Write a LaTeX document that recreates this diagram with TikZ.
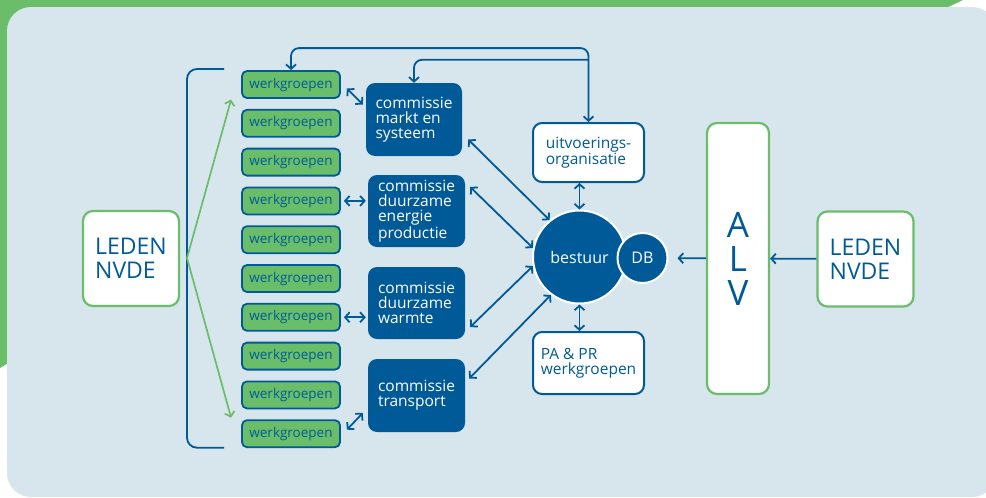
\documentclass[tikz,border=0pt]{standalone}
\usepackage{fontspec}
\setmainfont{Open Sans}
\usetikzlibrary{arrows.meta}

\definecolor{nvdeblue}{RGB}{0,90,152}
\definecolor{nvdegreen}{RGB}{106,190,105}
\definecolor{panelblue}{RGB}{215,229,237}

\tikzset{
  link/.style={draw=nvdeblue, line width=1.8pt, >={Straight Barb[length=4.5pt,width=10pt]}},
  greenlink/.style={draw=nvdegreen, line width=1.7pt, >={Straight Barb[length=4.5pt,width=10pt]}},
  wgbox/.style={rounded corners=5pt, fill=nvdegreen, draw=nvdeblue, line width=1.8pt,
    minimum width=98pt, minimum height=27pt, inner sep=0pt, text=nvdeblue,
    font=\fontsize{13.5}{15}\selectfont},
  commbox/.style={rounded corners=9pt, fill=nvdeblue, text=white, align=left,
    minimum width=97pt, minimum height=72pt, inner sep=0pt,
    font=\fontsize{15.5}{15}\selectfont},
  infobox/.style={rounded corners=9pt, fill=white, draw=nvdeblue, line width=2pt,
    minimum width=111pt, inner sep=0pt, text=nvdeblue, align=left,
    font=\fontsize{15.5}{15}\selectfont},
  ledenbox/.style={rounded corners=10pt, fill=white, draw=nvdegreen, line width=2.2pt,
    minimum width=96pt, minimum height=95pt, inner sep=0pt, text=nvdeblue, align=left,
    font=\fontsize{23}{24}\selectfont},
  roundbox/.style={circle, fill=nvdeblue, draw=white, line width=2pt, inner sep=0pt,
    text=white, font=\fontsize{16}{17}\selectfont}
}

\begin{document}
\begin{tikzpicture}[x=1pt,y=-1pt]
  % page and background panel
  \fill[white] (0,0) rectangle (986,498);
  \useasboundingbox (0,0) rectangle (986,498);
  \fill[nvdegreen] (0,0) -- (963,0) -- (900,30) -- (30,350) -- (0,368) -- cycle;
  \fill[panelblue, rounded corners=24pt] (7,7) rectangle (996,497);

  % members
  \node[ledenbox] (ledenL) at (131,258.5) {LEDEN\\NVDE};
  \node[ledenbox] (ledenR) at (865.5,259) {LEDEN\\NVDE};
  \node[ledenbox, minimum width=62pt, minimum height=271pt, align=center,
    font=\fontsize{35}{34}\selectfont] (alv) at (738,258.5) {A\\L\\V};

  % board
  \node[roundbox, minimum size=93pt] (bestuur) at (579.5,257) {bestuur};
  \node[roundbox, minimum size=50pt] (db) at (642.5,258) {DB};

  \node[infobox, minimum height=59pt] (uitv) at (588.5,152.5) {uitvoerings-\\organisatie};
  \node[infobox, minimum height=62pt] (pa) at (588.5,363) {PA \& PR\\werkgroepen};

  % commissions
  \node[commbox, minimum width=96pt, minimum height=73pt] (markt) at (414,119.5) {commissie\\markt en\\systeem};
  \node[commbox] (energie) at (416.5,211) {commissie\\duurzame\\energie\\productie};
  \node[commbox] (warmte) at (416.5,303) {commissie\\duurzame\\warmte};
  \node[commbox, minimum height=73pt] (transport) at (416.5,395.5) {commissie\\transport};

  % working groups
  \foreach \i in {1,...,10}
    \node[wgbox] (wg\i) at (291,{84.5+38.8*(\i-1)}) {werkgroepen};

  % bracket and green arrows
  \coordinate (fork) at (187,258);
  \draw[link, rounded corners=10pt] ([shift={(-17,-15.5)}]wg1.west) -| (fork)
    |- ([shift={(-17,14)}]wg10.west);
  \draw[greenlink,->] (fork) -- ([shift={(-10,15)}]wg1.west);
  \draw[greenlink,->] (fork) -- ([shift={(-10,-16)}]wg10.west);

  % arrows on the right
  \draw[link,->] (ledenR) -- (alv);
  \draw[link,->,shorten >=9pt] (alv) -- (db);
  \draw[link,<->] (uitv.south -| bestuur) -- (bestuur.north);
  \draw[link,<->] (bestuur.south) -- (pa.north -| bestuur);

  % top lines
  \draw[link,<->,rounded corners=8pt] (wg1.north) -- ++(0,-22) -| (uitv.north);
  \coordinate (split) at ([yshift=23pt]markt.north);
  \draw[link,->,rounded corners=8pt] (split -| uitv.north) -| (markt.north);

  % commissions to board
  \draw[link,<->] ([shift={(6,20)}]markt.east) -- (bestuur.129);
  \draw[link,<->] ([shift={(5,-24)}]energie.east) -- (bestuur.169);
  \draw[link,<->] ([shift={(5,24)}]warmte.east) -- (bestuur.191);
  \draw[link,<->] ([shift={(4,-17)}]transport.east) -- (bestuur.233);

  % working groups to commissions
  \draw[link,<->] ([shift={(6,4)}]wg1.east) -- ([shift={(-3,-15)}]markt.west);
  \draw[link,<->,shorten <=3pt,shorten >=2pt] (wg4.east) -- (wg4.east -| energie.west);
  \draw[link,<->,shorten <=3pt,shorten >=2pt] (wg7.east) -- (wg7.east -| warmte.west);
  \draw[link,<->] ([shift={(6,-4)}]wg10.east) -- ([shift={(-5,17.5)}]transport.west);
\end{tikzpicture}
\end{document}
